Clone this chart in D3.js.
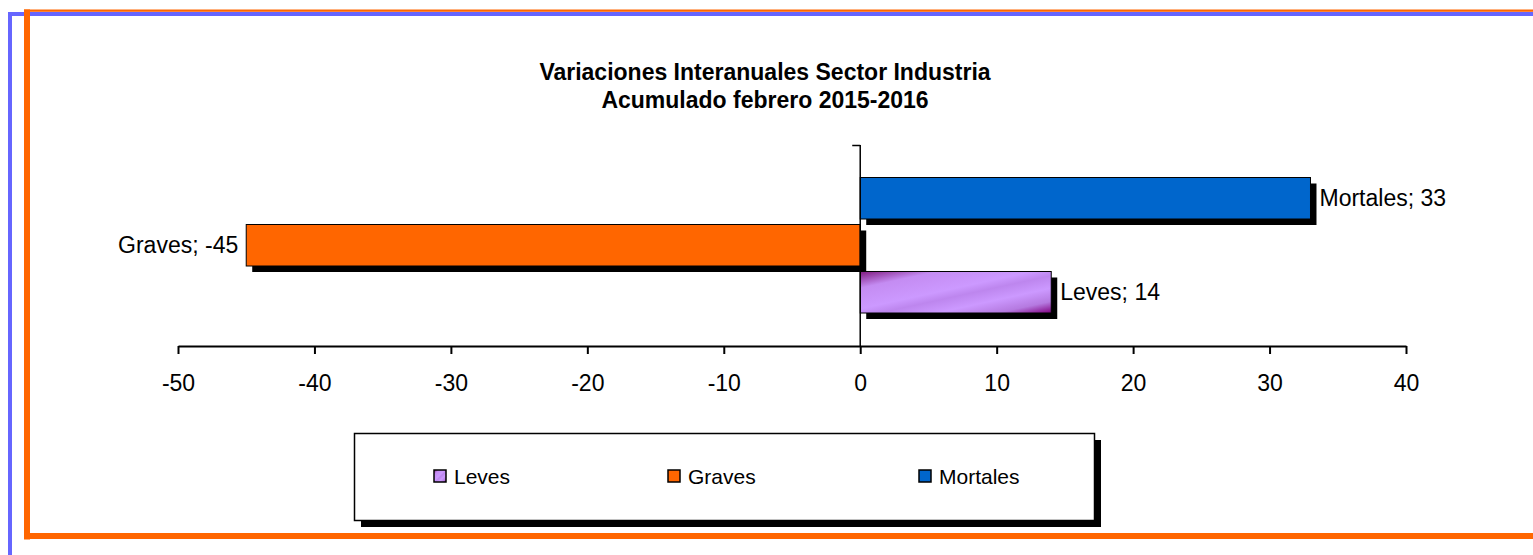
<!DOCTYPE html>
<html>
<head>
<meta charset="utf-8">
<script src="https://cdn.jsdelivr.net/npm/d3@7"></script>
<style>
  html, body { margin: 0; padding: 0; background: #fff; }
  svg { display: block; font-family: "Liberation Sans", Arial, sans-serif; }
</style>
</head>
<body>
<script>
// ---- data ----
const categories = ["Mortales", "Graves", "Leves"];       // top to bottom
const values = [33, -45, 14];
const legendOrder = ["Leves", "Graves", "Mortales"];
const tickValues = [-50, -40, -30, -20, -10, 0, 10, 20, 30, 40];
const titleLines = ["Variaciones Interanuales Sector Industria", "Acumulado febrero 2015-2016"];
const colors = { Mortales: "#0066CC", Graves: "#FF6600", Leves: "url(#levesGrad)" };

const W = 1533, H = 555;
const svg = d3.select("body").append("svg").attr("width", W).attr("height", H);

const defs = svg.append("defs");
const g1 = defs.append("linearGradient").attr("id", "levesGrad")
  .attr("x1", 0).attr("y1", 0).attr("x2", 1).attr("y2", 1);
[[0, "#801a80"], [0.2, "#c48cf2"], [0.45, "#cc99ff"], [0.55, "#bd86ee"], [0.7, "#cc99ff"], [0.86, "#b57ae0"], [1, "#800080"]]
  .forEach(([o, c]) => g1.append("stop").attr("offset", o).attr("stop-color", c));

// ---- frame ----
svg.append("rect").attr("x", 8).attr("y", 12).attr("width", 4).attr("height", H - 12).attr("fill", "#6666FF");
svg.append("rect").attr("x", 8).attr("y", 12).attr("width", W - 8).attr("height", 4).attr("fill", "#6666FF");
svg.append("rect").attr("x", 24).attr("y", 9.5).attr("width", W - 24).attr("height", 2.3).attr("fill", "#FF6600");
svg.append("rect").attr("x", 24).attr("y", 9.5).attr("width", 6).attr("height", 530).attr("fill", "#FF6600");
svg.append("rect").attr("x", 24).attr("y", 533).attr("width", W - 24).attr("height", 6).attr("fill", "#FF6600");

// ---- title ----
svg.append("g").selectAll("text").data(titleLines).join("text")
  .attr("x", 765).attr("y", (d, i) => 80 + i * 28)
  .attr("text-anchor", "middle").attr("font-weight", "bold").attr("font-size", 23)
  .attr("fill", "#000").text(d => d);

// ---- scales ----
const x = d3.scaleLinear().domain([-50, 40]).range([178, 1406]);
const y = d3.scaleBand().domain(categories).range([177.5, 313]).paddingInner(0.117).paddingOuter(0);
const axisY = 346;

// ---- bars ----
const data = categories.map((c, i) => ({ c, v: values[i] }));
const bars = svg.append("g");
bars.selectAll("rect.shadow").data(data).join("rect").attr("class", "shadow")
  .attr("x", d => Math.min(x(0), x(d.v)) + 6).attr("y", d => y(d.c) + 6)
  .attr("width", d => Math.abs(x(d.v) - x(0))).attr("height", y.bandwidth())
  .attr("fill", "#000");
bars.selectAll("rect.bar").data(data).join("rect").attr("class", "bar")
  .attr("x", d => Math.min(x(0), x(d.v))).attr("y", d => y(d.c))
  .attr("width", d => Math.abs(x(d.v) - x(0))).attr("height", y.bandwidth())
  .attr("fill", d => colors[d.c]).attr("stroke", "#000").attr("stroke-width", 1);

// labels
svg.append("g").selectAll("text").data(data).join("text")
  .attr("x", d => d.v >= 0 ? x(d.v) + 9 : x(d.v) - 8)
  .attr("y", d => y(d.c) + y.bandwidth() / 2 + 8)
  .attr("text-anchor", d => d.v >= 0 ? "start" : "end")
  .attr("font-size", 23).attr("fill", "#000")
  .text(d => `${d.c}; ${d.v}`);

// ---- axes ----
const xAxis = d3.axisBottom(x).tickValues(tickValues).tickFormat(d => String(d))
  .tickSize(8).tickPadding(21).tickSizeOuter(0);
const gx = svg.append("g").attr("transform", `translate(0,${axisY})`).call(xAxis);
gx.select(".domain").attr("stroke", "#000").attr("stroke-width", 2);
gx.selectAll(".tick line").attr("stroke", "#000").attr("stroke-width", 2);
gx.selectAll(".tick text").attr("font-size", 23).attr("font-family", "Liberation Sans, Arial, sans-serif").attr("fill", "#000");

// vertical category axis at zero
svg.append("line").attr("x1", x(0)).attr("x2", x(0)).attr("y1", 145).attr("y2", axisY)
  .attr("stroke", "#000").attr("stroke-width", 1.5);
svg.append("line").attr("x1", x(0) - 8).attr("x2", x(0)).attr("y1", 145.5).attr("y2", 145.5)
  .attr("stroke", "#000").attr("stroke-width", 1.5);

// ---- legend ----
const lg = svg.append("g");
lg.append("rect").attr("x", 361).attr("y", 440).attr("width", 740).attr("height", 87).attr("fill", "#000");
lg.append("rect").attr("x", 354.5).attr("y", 433.5).attr("width", 740).attr("height", 87)
  .attr("fill", "#fff").attr("stroke", "#000").attr("stroke-width", 1.5);
const legendX = { Leves: 434, Graves: 668, Mortales: 919 };
const items = lg.selectAll("g.item").data(legendOrder).join("g").attr("class", "item")
  .attr("transform", d => `translate(${legendX[d]},470)`);
items.append("rect").attr("width", 12).attr("height", 12)
  .attr("fill", d => colors[d]).attr("stroke", "#000").attr("stroke-width", 1.5);
items.append("text").attr("x", 20).attr("y", 13.5).attr("font-size", 21).attr("fill", "#000").text(d => d);
</script>
</body>
</html>
